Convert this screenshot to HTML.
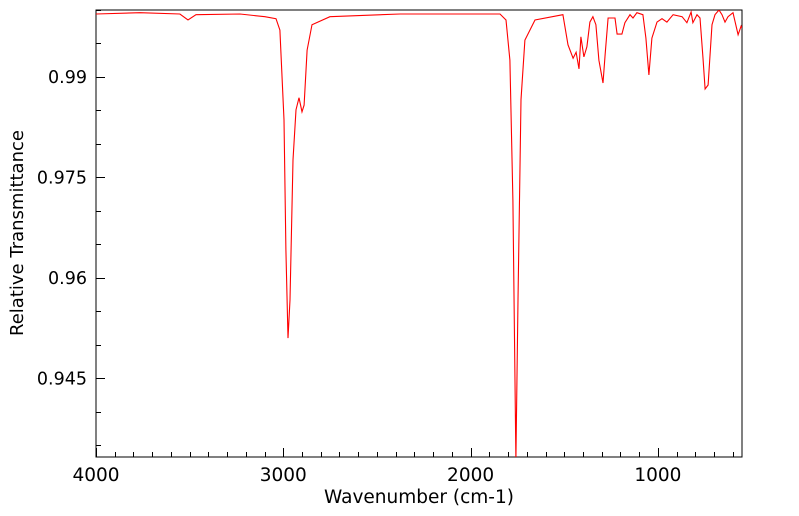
<!DOCTYPE html>
<html><head><meta charset="utf-8">
<style>
html,body{margin:0;padding:0;background:#fff;}
svg{display:block;font-family:"DejaVu Sans","Liberation Sans",sans-serif;}
</style></head>
<body>
<svg id="chart" width="799" height="516" viewBox="0 0 799 516">
<defs><clipPath id="pc"><rect x="96" y="10" width="646" height="447"/></clipPath></defs>
<rect x="96" y="10" width="646" height="447" fill="#fff" stroke="#000" stroke-width="1"/>
<g id="ticks"></g>
<path id="line" clip-path="url(#pc)" fill="none" stroke="#ff0000" stroke-width="1.1"/>
<text x="419" y="503" font-size="18.5" text-anchor="middle">Wavenumber (cm-1)</text>
<text x="23" y="233" font-size="18" text-anchor="middle" transform="rotate(-90 23 233)">Relative Transmittance</text>
</svg>
<script>
const wavenumbers = [4000,3765,3552,3509,3466,3231,3098,3039,3018,2996,2986,2975,2964,2948,2932,2916,2900,2889,2873,2847,2751,2377,1843,1811,1790,1774,1758,1747,1731,1710,1656,1507,1480,1453,1437,1421,1411,1395,1379,1363,1347,1331,1315,1293,1282,1266,1229,1218,1192,1176,1149,1133,1112,1080,1064,1048,1032,1005,978,952,919,871,845,823,813,791,775,759,748,732,711,695,674,658,642,626,599,572,556,551];
const transmittance = [0.9994,0.9996,0.9994,0.9985,0.9993,0.9994,0.9990,0.9987,0.9970,0.9836,0.9642,0.9510,0.9567,0.9776,0.9851,0.9869,0.9848,0.9858,0.9940,0.9978,0.9990,0.9994,0.9994,0.9985,0.9925,0.9716,0.9328,0.9567,0.9866,0.9955,0.9985,0.9993,0.9948,0.9928,0.9937,0.9912,0.9960,0.9930,0.9945,0.9982,0.9990,0.9978,0.9925,0.9891,0.9933,0.9988,0.9988,0.9964,0.9964,0.9981,0.9993,0.9988,0.9996,0.9993,0.9958,0.9903,0.9958,0.9982,0.9987,0.9982,0.9993,0.9990,0.9981,0.9997,0.9981,0.9993,0.9988,0.9928,0.9882,0.9888,0.9978,0.9993,1.0000,0.9993,0.9982,0.9990,0.9996,0.9963,0.9976,0.9973];
const xTickLabels = [4000,3000,2000,1000];
const yTickLabels = [0.99,0.975,0.96,0.945];

const X0=96,X1=742,Y0=10,Y1=457;
const xMax=4000,xMin=551,yMax=1.0,yMin=0.93325;
function sx(v){return X0+(xMax-v)/(xMax-xMin)*(X1-X0);}
function sy(v){return Y0+(yMax-v)/(yMax-yMin)*(Y1-Y0);}
const NS="http://www.w3.org/2000/svg";
const svg=document.getElementById('chart');
const tg=document.getElementById('ticks');
function ln(x1,y1,x2,y2){const l=document.createElementNS(NS,'line');l.setAttribute('x1',x1);l.setAttribute('y1',y1);l.setAttribute('x2',x2);l.setAttribute('y2',y2);l.setAttribute('stroke','#000');l.setAttribute('stroke-width','1');tg.appendChild(l);return l;}
for(let w=4000; w>=xMin; w-=100){
  const x=Math.round(sx(w))+0.5;
  const major = w%1000===0;
  const t=ln(x,Y1,x,Y1-(major?9:5));
  
  
}
xTickLabels.forEach(w=>{
  const t=document.createElementNS(NS,'text');
  t.setAttribute('x',sx(w));t.setAttribute('y',Y1+24);t.setAttribute('font-size','18.5');t.setAttribute('text-anchor','middle');
  t.textContent=w;
  
  
  svg.appendChild(t);
});
for(let k=0;k<14;k++){
  const v=1.0-0.005*k;
  if(v<yMin) break;
  const y=Math.round(sy(v))+0.5;
  const major = Math.abs(((0.99-v)/0.015)-Math.round((0.99-v)/0.015))<1e-6;
  const t=ln(X0,y,X0+(major?9:5),y);
  
  
}
yTickLabels.forEach(v=>{
  const t=document.createElementNS(NS,'text');
  t.setAttribute('x',X0-9);t.setAttribute('y',sy(v)+6);t.setAttribute('font-size','17.5');t.setAttribute('text-anchor','end');
  t.textContent=String(v);
  
  
  svg.appendChild(t);
});
let d='';
wavenumbers.forEach((w,i)=>{d+=(i?'L':'M')+sx(w).toFixed(1)+' '+sy(transmittance[i]).toFixed(1);});
document.getElementById('line').setAttribute('d',d);
</script>
</body></html>
